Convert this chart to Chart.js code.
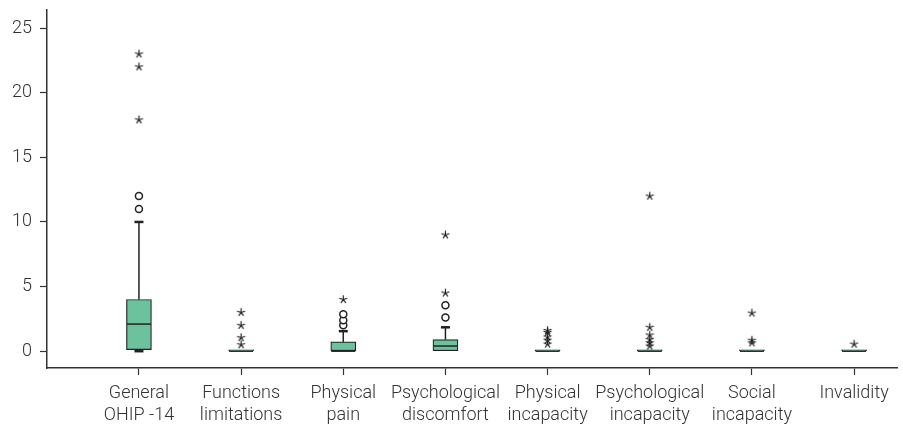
<!DOCTYPE html>
<html>
<head>
<meta charset="utf-8">
<script src="https://cdn.jsdelivr.net/npm/chart.js@4"></script>
<style>
html,body{margin:0;padding:0;background:#fff;}
#wrap{width:903px;height:430px;}
</style>
</head>
<body>
<div id="wrap"><canvas id="c" width="903" height="430"></canvas></div>
<script>
const categories = [["General","OHIP -14"],["Functions","limitations"],["Physical","pain"],["Psychological","discomfort"],["Physical","incapacity"],["Psychological","incapacity"],["Social","incapacity"],["Invalidity"]];
const q1 = [0.12, 0, 0, 0, 0, 0, 0, 0];
const q3 = [4, 0.1, 0.72, 0.9, 0.1, 0.1, 0.1, 0.1];
const medians = [2.1, 0, 0, 0.4, 0, 0, 0, 0];
const whiskerLow = [0, 0, 0, 0, 0, 0, 0, 0];
const whiskerHigh = [10, 0.1, 1.55, 1.85, 0.1, 0.1, 0.1, 0.1];
const mildOutliers = [[12, 11], [], [2.0, 2.4, 2.85], [2.6, 3.55], [], [], [], []];
const extremeOutliers = [[23, 22, 17.9], [3, 2, 1.05, 0.5], [4], [4.5, 9], [1.6, 1.45, 1.1, 0.85, 0.55], [12, 1.85, 1.25, 0.9, 0.65, 0.4], [2.95, 0.85, 0.65], [0.55]];
const yTicks = [0, 5, 10, 15, 20, 25];

const boxData = categories.map((c, i) => ({x: i + 1, y: [q1[i], q3[i]]}));
const mildData = [];
mildOutliers.forEach((arr, i) => arr.forEach(v => mildData.push({x: i + 1, y: v})));
const extremeData = [];
extremeOutliers.forEach((arr, i) => arr.forEach(v => extremeData.push({x: i + 1, y: v})));

// asterisk point style
const star = document.createElement('canvas');
star.width = 11; star.height = 11;
(function(){
  const g = star.getContext('2d');
  g.strokeStyle = '#1a1a1a'; g.lineWidth = 1.15; g.lineCap = 'butt';
  g.beginPath();
  for (let k = 0; k < 5; k++) {
    const a = -Math.PI / 2 + k * 2 * Math.PI / 5;
    g.moveTo(5.5, 5.5);
    g.lineTo(5.5 + 4.2 * Math.cos(a), 5.5 + 4.2 * Math.sin(a));
  }
  g.stroke();
})();

const whiskerPlugin = {
  id: 'whiskers',
  afterDatasetsDraw(chart) {
    const {ctx} = chart; const x = chart.scales.x, y = chart.scales.y;
    ctx.save();
    ctx.strokeStyle = '#222';
    for (let i = 0; i < categories.length; i++) {
      const px = x.getPixelForValue(i + 1);
      ctx.lineWidth = 1.5;
      if (whiskerHigh[i] > q3[i]) {
        ctx.beginPath(); ctx.moveTo(px, y.getPixelForValue(q3[i])); ctx.lineTo(px, y.getPixelForValue(whiskerHigh[i])); ctx.stroke();
        ctx.lineWidth = 2.5;
        ctx.beginPath(); ctx.moveTo(px - 4.5, y.getPixelForValue(whiskerHigh[i])); ctx.lineTo(px + 4.5, y.getPixelForValue(whiskerHigh[i])); ctx.stroke();
      }
      ctx.lineWidth = 1.5;
      if (whiskerLow[i] < q1[i]) {
        ctx.beginPath(); ctx.moveTo(px, y.getPixelForValue(q1[i])); ctx.lineTo(px, y.getPixelForValue(whiskerLow[i])); ctx.stroke();
        ctx.lineWidth = 2.5;
        ctx.beginPath(); ctx.moveTo(px - 4.5, y.getPixelForValue(whiskerLow[i])); ctx.lineTo(px + 4.5, y.getPixelForValue(whiskerLow[i])); ctx.stroke();
      }
      ctx.lineWidth = 1.5;
      const my = y.getPixelForValue(medians[i]);
      ctx.beginPath(); ctx.moveTo(px - 12, my); ctx.lineTo(px + 12, my); ctx.stroke();
    }
    ctx.restore();
  }
};

const font = {family: 'Roboto', size: 18, weight: 300, lineHeight: 1.2};

new Chart(document.getElementById('c'), {
  type: 'bar',
  data: {
    datasets: [
      {type: 'bar', data: boxData, backgroundColor: '#6dc29e', borderColor: '#222', borderWidth: 1.2, barThickness: 25, borderSkipped: false, order: 3},
      {type: 'scatter', data: mildData, pointStyle: 'circle', radius: 3.5, borderWidth: 1.5, borderColor: '#222', backgroundColor: '#fff', order: 1},
      {type: 'scatter', data: extremeData, pointStyle: star, radius: 5, order: 1}
    ]
  },
  options: {
    responsive: false,
    animation: false,
    events: [],
    layout: {padding: {top: 10, right: 0, left: 0, bottom: 0}},
    plugins: {legend: {display: false}, tooltip: {enabled: false}},
    scales: {
      x: {
        type: 'linear', min: 0.1, max: 8.42, offset: false,
        afterBuildTicks: (axis) => { axis.ticks = categories.map((c, i) => ({value: i + 1})); },
        afterFit: (s) => { s.height = 62; s.paddingLeft = 0; s.paddingRight = 0; },
        ticks: {callback: (v) => categories[v - 1], color: '#333', font: font, maxRotation: 0, autoSkip: false, padding: 8},
        grid: {drawOnChartArea: false, offset: false, color: '#333', tickLength: 7, tickWidth: 1.2},
        border: {color: '#333', width: 1.5}
      },
      y: {
        min: -1.3, max: 26.4,
        afterBuildTicks: (axis) => { axis.ticks = yTicks.map(v => ({value: v})); },
        afterFit: (s) => { s.width = 47; s.paddingTop = 0; s.paddingBottom = 0; },
        ticks: {color: '#333', font: font, padding: 8},
        grid: {drawOnChartArea: false, color: '#333', tickLength: 7, tickWidth: 1.2},
        border: {color: '#333', width: 1.5}
      }
    }
  },
  plugins: [whiskerPlugin]
});
</script>
</body>
</html>
